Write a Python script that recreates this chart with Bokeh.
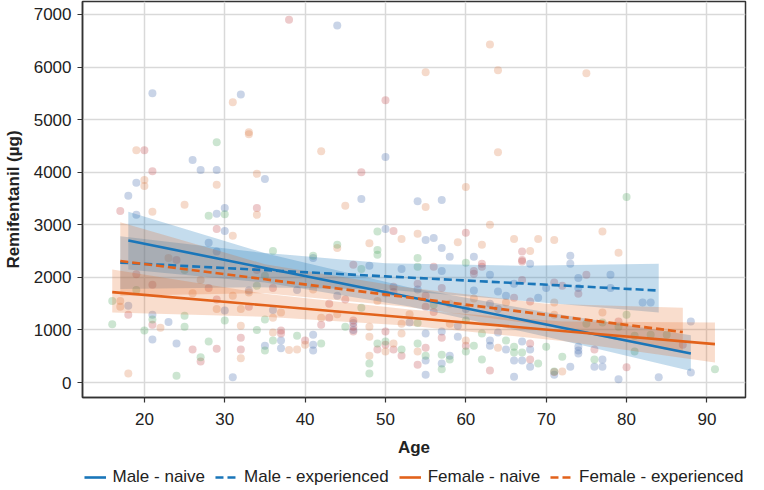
from bokeh.plotting import figure
from bokeh.layouts import column
from bokeh.models import Legend, LegendItem, Range1d, FixedTicker
from bokeh.embed import file_html
from bokeh.resources import INLINE

# ---- scatter points (age, remifentanil) by point colour group ----
blue_age = [21, 19, 18, 26, 27, 29, 32, 35, 44, 50, 47, 54, 57, 19, 29, 28, 29, 18, 21, 23, 21, 24,
            30, 30, 39, 36, 30, 37, 35, 37, 41, 41, 41, 31, 41, 50, 55, 56, 57, 58, 61, 48, 52, 57, 46,
            53, 55, 55, 55, 57, 57, 58, 59, 50, 54, 61, 60, 59, 68, 73, 73, 74, 63, 66, 70, 74, 64, 65,
            69, 78, 64, 63, 64, 63, 63, 65, 66, 67, 67, 68, 68, 66, 71, 73, 74, 74, 74, 77, 77, 76, 78,
            82, 83, 88, 79, 84, 88, 44, 46, 33]
blue_val = [5500, 3800, 3550, 4230, 4040, 4040, 5480, 3870, 6790, 4290, 3490, 3450, 3470, 3190, 3210,
            2660, 2490, 1460, 1290, 1150, 820, 740, 3320, 2880, 1760, 1380, 1370, 800, 700, 650, 910,
            720, 610, 100, 2370, 2920, 2710, 2750, 2560, 2390, 2390, 2220, 2160, 2120, 1130, 1140, 930,
            420, 150, 970, 360, 510, 870, 1700, 1770, 1750, 1400, 1080, 2260, 2410, 2260, 1990, 2050,
            1880, 1800, 1800, 1730, 1650, 1610, 2050, 1400, 1500, 950, 800, 700, 630, 420, 780, 420,
            630, 300, 110, 150, 300, 680, 610, 550, 440, 300, 300, 1800, 1520, 1520, 1160, 60, 100,
            190, 1650, 1000, 1750]

pink_age = [20, 21, 38, 50, 47, 17, 29, 19, 28, 21, 18, 21, 26, 27, 29, 24, 34, 34, 29, 33, 43, 43, 42,
            32, 32, 37, 37, 40, 51, 60, 46, 56, 61, 46, 46, 46, 49, 50, 50, 51, 52, 54, 55, 57, 60, 51,
            51, 54, 55, 55, 56, 61, 57, 67, 67, 67, 62, 62, 75, 67, 71, 72, 68, 66, 68, 68, 63, 71, 76,
            80, 87, 79, 74, 45, 36]
pink_val = [4420, 4020, 6900, 5370, 4000, 3260, 2920, 2060, 1800, 1860, 1290, 1100, 630, 400, 640, 2330,
            3320, 2140, 1580, 1440, 1500, 1230, 1100, 850, 630, 990, 930, 800, 2880, 2850, 2240, 2200,
            2120, 1180, 1060, 970, 630, 720, 970, 630, 510, 340, 660, 850, 700, 1820, 1720, 1880, 1650,
            1440, 1340, 2070, 1800, 2490, 2330, 2300, 2260, 2200, 2050, 1950, 1900, 1840, 1540, 1610,
            740, 440, 230, 200, 630, 290, 720, 1160, 1690, 1580, 1800]

orange_age = [19, 20, 20, 29, 31, 33, 33, 34, 63, 64, 55, 42, 64, 60, 75, 21, 25, 23, 27, 17, 17, 29, 22,
              18, 34, 31, 45, 44, 41, 33, 31, 32, 36, 37, 42, 32, 32, 36, 38, 39, 40, 55, 52, 54, 48,
              59, 62, 48, 48, 48, 50, 51, 52, 52, 54, 60, 58, 58, 61, 63, 66, 69, 71, 77, 68, 71, 65,
              71, 64, 72, 77, 79, 49, 53, 44, 26]
orange_val = [4420, 3850, 3740, 3760, 5330, 4760, 4720, 3970, 6430, 5940, 5900, 4400, 4380, 3720, 5880,
              3250, 3380, 2370, 1950, 1550, 1440, 1400, 1040, 170, 3190, 2790, 3360, 2560, 1770, 1710,
              1650, 1400, 1230, 1330, 1230, 1080, 460, 950, 620, 630, 720, 3340, 2730, 2830, 2650, 2670,
              2620, 1060, 870, 510, 590, 740, 930, 1120, 590, 800, 1500, 1120, 1600, 3000, 2730, 2730,
              2710, 2870, 2500, 1520, 1520, 1290, 660, 210, 1330, 2470, 1550, 1300, 1300, 1700]

green_age = [29, 80, 28, 25, 19, 16, 21, 25, 25, 16, 20, 28, 27, 24, 30, 44, 36, 41, 35, 34, 30, 35, 45,
             34, 36, 35, 39, 42, 49, 49, 49, 54, 60, 54, 47, 47, 48, 48, 49, 50, 52, 54, 54, 55, 57, 57,
             58, 60, 61, 62, 56, 60, 62, 65, 66, 66, 67, 69, 70, 71, 72, 76, 75, 77, 80, 81, 91, 79, 81,
             83, 85]
green_val = [4570, 3530, 3170, 2140, 1760, 1550, 1200, 1270, 1060, 1110, 990, 780, 480, 130, 3200, 2620,
             2500, 2410, 2030, 1840, 1180, 1200, 1060, 1000, 800, 610, 890, 740, 2870, 2520, 2430, 2370,
             2280, 2200, 2160, 1420, 360, 170, 740, 780, 630, 1130, 740, 510, 530, 250, 440, 590, 700,
             440, 1480, 1180, 930, 800, 680, 570, 570, 360, 680, 210, 490, 440, 1120, 1140, 1290, 590,
             250, 1060, 891, 910, 910]

# ---- regression fits and confidence bands ----
mn_x = [18, 35, 53, 70, 88]
mn_fit = [2700, 2178, 1625, 1103, 550]
mn_lo = [2150, 1900, 1445, 870, 220]
mn_hi = [3250, 2460, 1805, 1335, 900]

me_x = [17, 34, 50, 67, 84]
me_fit = [2280, 2146, 2019, 1885, 1750]
me_lo = [1780, 1810, 1770, 1555, 1330]
me_hi = [2780, 2480, 2270, 2220, 2260]

fn_x = [16, 35, 53, 72, 91]
fn_fit = [1720, 1469, 1232, 981, 730]
fn_lo = [1330, 1250, 1080, 790, 380]
fn_hi = [2150, 1690, 1390, 1160, 1140]

fe_x = [17, 35, 52, 70, 87]
fe_fit = [2310, 1963, 1635, 1288, 960]
fe_lo = [1650, 1700, 1450, 1080, 560]
fe_hi = [3050, 2250, 1820, 1500, 1420]

x_ticks = [20, 30, 40, 50, 60, 70, 80, 90]
y_ticks = [0, 1000, 2000, 3000, 4000, 5000, 6000, 7000]
series_labels = ["Male - naive", "Male - experienced", "Female - naive", "Female - experienced"]

BLUE = "#1a76b9"
ORANGE = "#e2621b"
FONT = "Liberation Sans"

p = figure(width=764, height=463, output_backend="svg", toolbar_location=None,
           x_range=Range1d(12.3, 94.8), y_range=Range1d(-285, 7247),
           min_border_left=79, min_border_right=19, min_border_top=1, min_border_bottom=66)

p.outline_line_color = "#333333"
p.outline_line_width = 1.5
p.background_fill_color = "white"
p.border_fill_color = "white"

for ax in (p.xaxis[0], p.yaxis[0]):
    ax.axis_line_color = "#333333"
    ax.axis_line_width = 1.5
    ax.major_tick_line_color = "#333333"
    ax.major_tick_line_width = 1.2
    ax.major_tick_out = 5
    ax.major_tick_in = 0
    ax.minor_tick_line_color = None
    ax.major_label_text_font = FONT
    ax.major_label_text_font_size = "17px"
    ax.major_label_text_color = "#222222"
    ax.axis_label_text_font = FONT
    ax.axis_label_text_font_size = "17px"
    ax.axis_label_text_font_style = "bold"
    ax.axis_label_text_color = "#222222"

p.xaxis.major_label_standoff = 10
p.xaxis.axis_label_standoff = 10
p.yaxis.major_label_standoff = 6
p.yaxis.axis_label_standoff = 8

p.xaxis.ticker = FixedTicker(ticks=x_ticks)
p.yaxis.ticker = FixedTicker(ticks=y_ticks)
p.xaxis.axis_label = "Age"
p.yaxis.axis_label = "Remifentanil (µg)"

p.grid.grid_line_color = "#d9d9d9"
p.grid.grid_line_width = 1.5

# points
p.scatter(blue_age, blue_val, size=8, fill_color="#4C72B0", fill_alpha=0.3, line_color=None)
p.scatter(pink_age, pink_val, size=8, fill_color="#C44E52", fill_alpha=0.3, line_color=None)
p.scatter(orange_age, orange_val, size=8, fill_color="#DD8452", fill_alpha=0.3, line_color=None)
p.scatter(green_age, green_val, size=8, fill_color="#55A868", fill_alpha=0.3, line_color=None)

# bands
p.varea(x=mn_x, y1=mn_lo, y2=mn_hi, fill_color=BLUE, fill_alpha=0.26)
p.varea(x=me_x, y1=me_lo, y2=me_hi, fill_color=BLUE, fill_alpha=0.26)
p.varea(x=fn_x, y1=fn_lo, y2=fn_hi, fill_color=ORANGE, fill_alpha=0.22)
p.varea(x=fe_x, y1=fe_lo, y2=fe_hi, fill_color=ORANGE, fill_alpha=0.22)

# fit lines
p.line(mn_x, mn_fit, line_color=BLUE, line_width=2.6)
p.line(me_x, me_fit, line_color=BLUE, line_width=2.6, line_dash="8 4")
p.line(fn_x, fn_fit, line_color=ORANGE, line_width=2.6)
p.line(fe_x, fe_fit, line_color=ORANGE, line_width=2.6, line_dash="8 4")

# ---- legend strip below the chart (key lines lie outside its visible range) ----
lg = figure(width=764, height=27, output_backend="svg", toolbar_location=None,
            x_range=Range1d(0, 1), y_range=Range1d(0, 1),
            x_axis_location=None, y_axis_location=None,
            min_border_left=0, min_border_right=0, min_border_top=0, min_border_bottom=0)
lg.outline_line_color = None
lg.grid.visible = False
lg.border_fill_color = "white"
lg.background_fill_color = "white"
hidden = [-5, -4]
k1 = lg.line(hidden, hidden, line_color=BLUE, line_width=2.6)
k2 = lg.line(hidden, hidden, line_color=BLUE, line_width=2.6, line_dash="8 4")
k3 = lg.line(hidden, hidden, line_color=ORANGE, line_width=2.6)
k4 = lg.line(hidden, hidden, line_color=ORANGE, line_width=2.6, line_dash="8 4")

legend = Legend(items=[LegendItem(label=lab, renderers=[r])
                       for lab, r in zip(series_labels, [k1, k2, k3, k4])],
                orientation="horizontal", location="center")
legend.label_text_font = FONT
legend.label_text_font_size = "17px"
legend.label_text_color = "#222222"
legend.glyph_width = 22
legend.label_standoff = 7
legend.spacing = 10
legend.padding = 1
legend.margin = 0
legend.border_line_alpha = 0
legend.background_fill_alpha = 0
lg.add_layout(legend, "center")

open("out.html", "w").write(file_html(column(p, lg, spacing=0), INLINE))
